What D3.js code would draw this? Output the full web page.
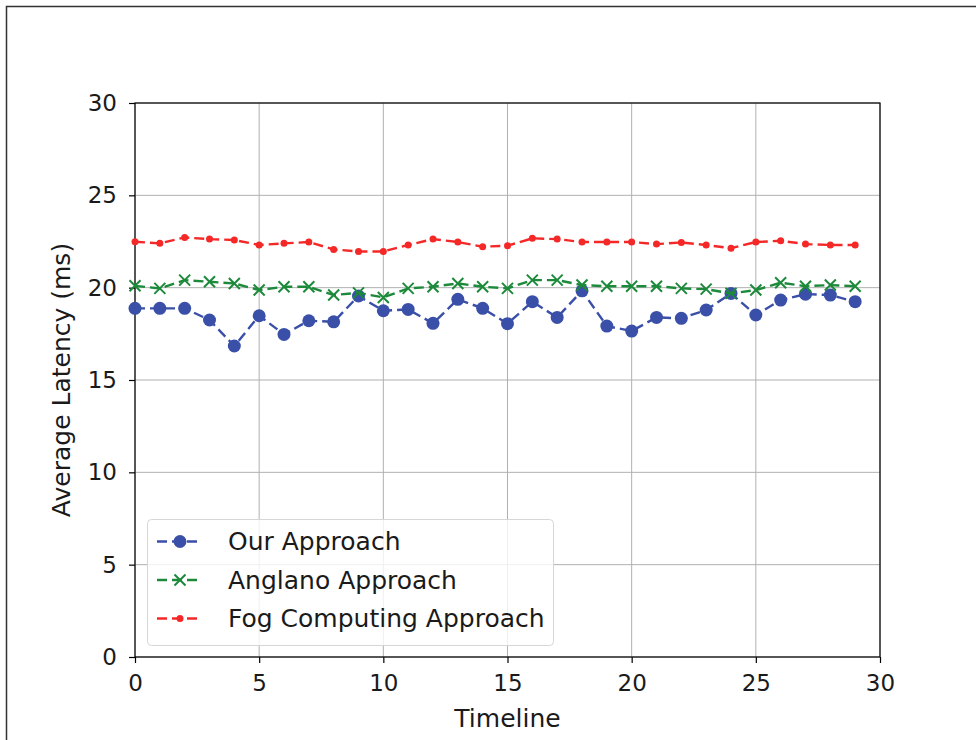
<!DOCTYPE html>
<html>
<head>
<meta charset="utf-8">
<script src="https://cdn.jsdelivr.net/npm/d3@7"></script>
<style>
  html, body { margin: 0; padding: 0; background: #fff; }
  svg { display: block; font-family: "DejaVu Sans", sans-serif; }
</style>
</head>
<body>
<svg id="chart" width="976" height="740"></svg>
<script>
// Average latency per timeline step for three placement approaches
const timeline = d3.range(0, 30);
const ourApproach = [18.88, 18.88, 18.88, 18.25, 16.84, 18.48, 17.47, 18.21, 18.15, 19.55,
                     18.75, 18.82, 18.07, 19.37, 18.88, 18.05, 19.24, 18.39, 19.83, 17.92,
                     17.65, 18.39, 18.34, 18.79, 19.69, 18.52, 19.33, 19.65, 19.60, 19.24];
const anglanoApproach = [20.10, 19.96, 20.41, 20.32, 20.23, 19.87, 20.05, 20.05, 19.60, 19.72,
                         19.47, 19.96, 20.05, 20.23, 20.05, 19.96, 20.41, 20.41, 20.14, 20.08,
                         20.08, 20.08, 19.96, 19.92, 19.69, 19.87, 20.27, 20.08, 20.14, 20.08];
const fogApproach = [22.49, 22.40, 22.72, 22.63, 22.58, 22.31, 22.40, 22.47, 22.07, 21.96,
                     21.96, 22.31, 22.63, 22.47, 22.22, 22.27, 22.67, 22.63, 22.47, 22.47,
                     22.47, 22.36, 22.45, 22.31, 22.14, 22.47, 22.54, 22.36, 22.31, 22.31];
const seriesNames = ["Our Approach", "Anglano Approach", "Fog Computing Approach"];
const xTicks = [0, 5, 10, 15, 20, 25, 30];
const yTicks = [0, 5, 10, 15, 20, 25, 30];

const series = [
  { name: seriesNames[0], values: ourApproach, color: "#3a4fa8", marker: "circle" },
  { name: seriesNames[1], values: anglanoApproach, color: "#1c8a3a", marker: "cross" },
  { name: seriesNames[2], values: fogApproach, color: "#f52828", marker: "dot" }
];

const svg = d3.select("#chart");
const plot = { left: 135, right: 880, top: 103, bottom: 657 };
const x = d3.scaleLinear().domain([0, 30]).range([plot.left, plot.right]);
const y = d3.scaleLinear().domain([0, 30]).range([plot.bottom, plot.top]);
const labelSize = 25;
const tickSize = 23;
const textColor = "#1a1a1a";

// outer frame
svg.append("path")
  .attr("d", "M6.5,740 L6.5,6.5 L976,6.5")
  .attr("fill", "none").attr("stroke", "#333").attr("stroke-width", 1.5);

// grid
const grid = svg.append("g");
grid.selectAll("line.vx").data(xTicks).join("line")
  .attr("x1", d => x(d)).attr("x2", d => x(d))
  .attr("y1", plot.top).attr("y2", plot.bottom)
  .attr("stroke", "#b0b0b0").attr("stroke-width", 1);
grid.selectAll("line.hy").data(yTicks).join("line")
  .attr("y1", d => y(d)).attr("y2", d => y(d))
  .attr("x1", plot.left).attr("x2", plot.right)
  .attr("stroke", "#b0b0b0").attr("stroke-width", 1);

// axes
const xAxis = svg.append("g").attr("transform", `translate(0,${plot.bottom})`)
  .call(d3.axisBottom(x).tickValues(xTicks).tickFormat(d3.format("d")).tickSize(6).tickPadding(12));
const yAxis = svg.append("g").attr("transform", `translate(${plot.left},0)`)
  .call(d3.axisLeft(y).tickValues(yTicks).tickFormat(d3.format("d")).tickSize(6).tickPadding(12));
[xAxis, yAxis].forEach(a => {
  a.select(".domain").remove();
  a.selectAll("line").attr("stroke", "#000").attr("stroke-width", 1.2);
  a.selectAll("text").attr("font-size", tickSize).attr("fill", textColor)
    .attr("font-family", "DejaVu Sans, sans-serif");
});

// plot frame
svg.append("rect")
  .attr("x", plot.left).attr("y", plot.top)
  .attr("width", plot.right - plot.left).attr("height", plot.bottom - plot.top)
  .attr("fill", "none").attr("stroke", "#000").attr("stroke-width", 1.2);

// axis labels
svg.append("text").attr("x", (plot.left + plot.right) / 2).attr("y", 727)
  .attr("text-anchor", "middle").attr("font-size", labelSize).attr("fill", textColor).text("Timeline");
svg.append("text").attr("transform", `translate(70,${(plot.top + plot.bottom) / 2}) rotate(-90)`)
  .attr("text-anchor", "middle").attr("font-size", labelSize).attr("fill", textColor).text("Average Latency (ms)");

function drawMarker(g, kind, color) {
  if (kind === "circle") {
    g.append("circle").attr("r", 6.5).attr("fill", color);
  } else if (kind === "cross") {
    const s = 5.5;
    g.append("path").attr("d", `M${-s},${-s}L${s},${s}M${-s},${s}L${s},${-s}`)
      .attr("stroke", color).attr("stroke-width", 2).attr("fill", "none");
  } else {
    g.append("circle").attr("r", 3.5).attr("fill", color);
  }
}

const line = d3.line().x((d, i) => x(timeline[i])).y(d => y(d));
series.forEach(s => {
  svg.append("path").datum(s.values)
    .attr("d", line).attr("fill", "none")
    .attr("stroke", s.color).attr("stroke-width", 2.4)
    .attr("stroke-dasharray", "10,5");
  s.values.forEach((v, i) => {
    const g = svg.append("g").attr("transform", `translate(${x(timeline[i])},${y(v)})`);
    drawMarker(g, s.marker, s.color);
  });
});

// legend
const legend = svg.append("g");
legend.append("rect").attr("x", 147.5).attr("y", 519.5).attr("width", 406).attr("height", 126)
  .attr("rx", 4).attr("fill", "#fff").attr("fill-opacity", 0.8)
  .attr("stroke", "#d6d6d6").attr("stroke-width", 1);
const rowY = [541.5, 580, 618.5];
series.forEach((s, i) => {
  const g = legend.append("g").attr("transform", `translate(0,${rowY[i]})`);
  g.append("line").attr("x1", 157).attr("x2", 202).attr("y1", 0).attr("y2", 0)
    .attr("stroke", s.color).attr("stroke-width", 2.4).attr("stroke-dasharray", "10,5");
  const m = g.append("g").attr("transform", "translate(180,0)");
  drawMarker(m, s.marker, s.color);
  g.append("text").attr("x", 228).attr("y", 0).attr("dy", "0.35em")
    .attr("font-size", labelSize).attr("fill", textColor).text(s.name);
});
</script>
</body>
</html>
